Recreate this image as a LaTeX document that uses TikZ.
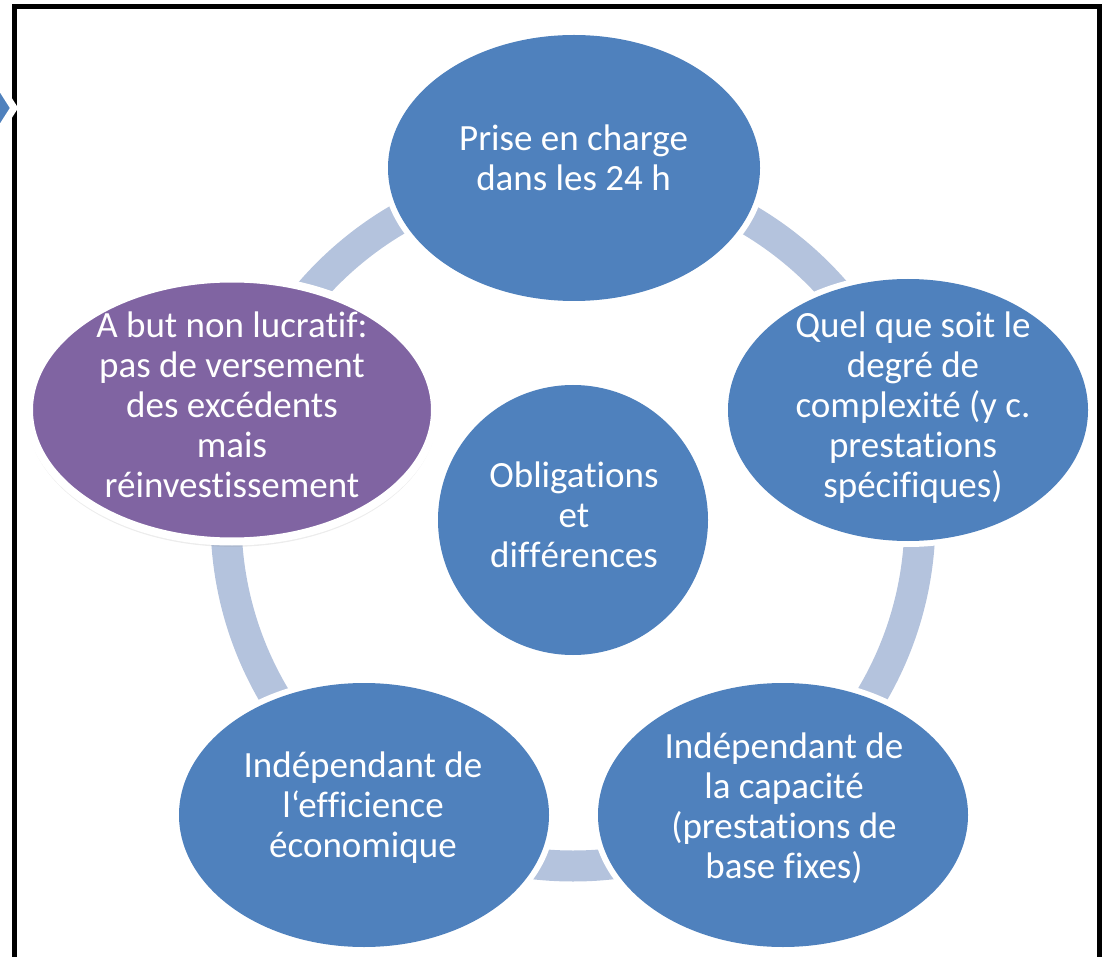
\documentclass[tikz,border=0pt]{standalone}
\usepackage{fontspec}
\setmainfont{Carlito}[Ligatures={NoCommon,NoContextual}]
\usetikzlibrary{shapes.geometric,shadows}
\definecolor{accblue}{HTML}{4F81BD}
\definecolor{accpurple}{HTML}{8064A2}
\definecolor{ringcol}{RGB}{180,195,221}
\newcommand\nlg{\kern0pt\relax}
\tikzset{
  blueell/.style={ellipse, fill=accblue, inner sep=0pt,
    preaction={draw=white, line width=12pt}},
  ringband/.style={draw=ringcol, line width=31pt},
  txt/.style={align=center, text=white, inner sep=0pt,
    font=\fontsize{37}{40}\selectfont},
  frameline/.style={draw=black, line width=5pt, line join=miter},
}
\begin{document}
\begin{tikzpicture}[x=1pt,y=-1pt]
\useasboundingbox (0,0) rectangle (1103,957);
% frame
\draw[frameline] (14.5,975) -- (14.5,7) -- (1099.5,7) -- (1099.5,975);
% chevron at left edge
\draw[fill=accblue, draw=white, line width=7pt, line join=miter]
  (-40,86) -- (0,86) -- (14,108) -- (0,130) -- (-40,130) -- cycle;
% ring
\coordinate (ctr) at (573,519);
\draw[ringband] (ctr) circle[radius=347pt];
% nodes
\node[blueell, minimum width=372pt, minimum height=266pt] (top) at (574,168) {};
\node[blueell, minimum width=360pt, minimum height=262pt] (right) at (908,410) {};
\node[blueell, minimum width=370pt, minimum height=264pt] (bright) at (783,815) {};
\node[blueell, minimum width=370pt, minimum height=264pt] (bleft) at (364,815) {};
\node[ellipse, fill=accpurple, draw=white, line width=8pt, inner sep=0pt,
  minimum width=406pt, minimum height=263pt,
  drop shadow={opacity=0.15, shadow xshift=0pt, shadow yshift=-4pt, shadow scale=1.01}]
  (left) at (232,410) {};
\node[blueell, circle, minimum size=270pt] (centre) at (573,520) {};
% texts
\node[txt] (ttop) at (573.5,158) {Prise en charge\\dans les 24 h};
\node[txt] (tright) at (913,408) {Quel que soit le\\degré de\\complexité (y c.\\prestat\nlg ions\\spécif\nlg iques)};
\node[txt] (tbright) at (784,808) {Indépendant de\\la capacité\\(prestat\nlg ions de\\base fixes)};
\node[txt] (tbleft) at (363,808) {Indépendant de\\l‘ef\nlg f\nlg icience\\économique};
\node[txt] (tleft) at (232,404.5) {A but non lucrat\nlg i\nlg f:\\pas de versement\\des excédents\\mais\\réinvest\nlg issement};
\node[txt] (tcentre) at (574,515) {Obligat\nlg ions\\et\\dif\nlg f\nlg érences};
\end{tikzpicture}
\end{document}
